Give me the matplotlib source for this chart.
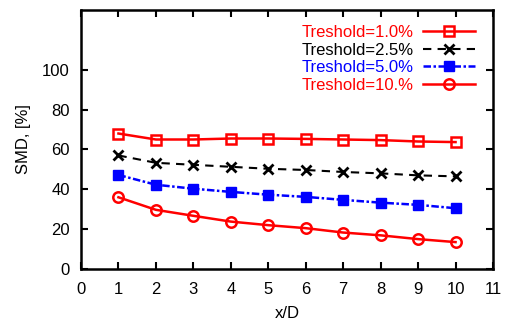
import matplotlib
matplotlib.use("Agg")
import matplotlib.pyplot as plt

x = [1, 2, 3, 4, 5, 6, 7, 8, 9, 10]
smd_1 = [68.0, 65.0, 65.0, 65.5, 65.5, 65.3, 65.0, 64.7, 64.0, 63.7]
smd_2_5 = [57.0, 53.3, 52.3, 51.3, 50.3, 49.7, 48.7, 48.0, 47.0, 46.5]
smd_5 = [47.2, 42.3, 40.3, 38.7, 37.3, 36.2, 34.7, 33.3, 32.2, 30.5]
smd_10 = [36.0, 29.7, 26.7, 23.8, 22.0, 20.5, 18.3, 16.9, 15.0, 13.5]
labels = ["Treshold=1.0%", "Treshold=2.5%", "Treshold=5.0%", "Treshold=10.%"]
xticks = list(range(0, 12))
yticks = [0, 20, 40, 60, 80, 100]

plt.rcParams['font.family'] = ['Liberation Sans', 'DejaVu Sans']
plt.rcParams['font.size'] = 12

fig = plt.figure(figsize=(5.07, 3.27), dpi=100)
ax = fig.add_axes([81/507, 58/327, (493-81)/507, (269-10)/327])

ax.plot(x, smd_1, color='red', lw=1.8, marker='s', ms=7.5, mfc='none', mew=1.8, label=labels[0])
ax.plot(x, smd_2_5, color='black', lw=1.5, ls=(0, (4, 3)), marker='x', ms=7.5, mew=2.0, label=labels[1])
ax.plot(x, smd_5, color='blue', lw=1.8, ls=(0, (3, 1, 1, 1)), marker='s', ms=7.5, label=labels[2])
ax.plot(x, smd_10, color='red', lw=1.8, marker='o', ms=7.5, mfc='none', mew=1.8, label=labels[3])

ax.set_xlim(0, 11)
ax.set_ylim(0, 130)
ax.set_xticks(xticks)
ax.set_yticks(yticks)
ax.tick_params(direction='in', top=True, right=True, length=5, width=1.5)
ax.tick_params(axis='x', pad=9)
ax.tick_params(axis='y', pad=8)
for s in ax.spines.values():
    s.set_linewidth(1.8)
ax.set_xlabel("x/D", labelpad=7)
ax.set_ylabel("SMD, [%]", labelpad=8)

leg = ax.legend(loc='upper right', bbox_to_anchor=(0.9726, 0.968), frameon=False,
                markerfirst=False, labelcolor='linecolor',
                handlelength=3.1, labelspacing=0.16, borderaxespad=0.0,
                borderpad=0.4, handletextpad=0.6)
fig.savefig("out.png", dpi=100)
